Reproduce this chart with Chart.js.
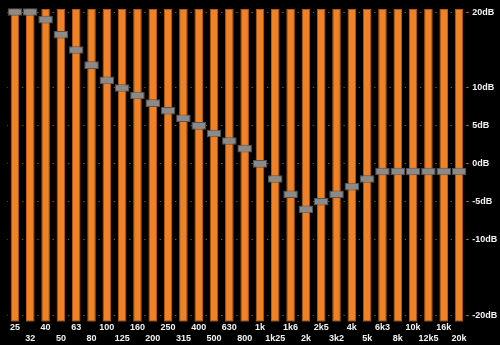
<!DOCTYPE html>
<html>
<head>
<meta charset="utf-8">
<script src="https://cdn.jsdelivr.net/npm/chart.js@4"></script>
<style>
  html, body { margin: 0; padding: 0; background: #000; }
  #wrap { width: 500px; height: 345px; }
</style>
</head>
<body>
<div id="wrap"><canvas id="eq"></canvas></div>
<script>
// 30-band graphic equalizer: band centre frequencies and slider gains (dB)
const bands = ['25','32','40','50','63','80','100','125','160','200','250','315','400','500','630','800',
               '1k','1k25','1k6','2k','2k5','3k2','4k','5k','6k3','8k','10k','12k5','16k','20k'];
const gains = [20, 20, 19, 17, 15, 13, 11, 10, 9, 8, 7, 6, 5, 4, 3, 2,
               0, -2, -4, -6, -5, -4, -3, -2, -1, -1, -1, -1, -1, -1];
const dbTicks = [20, 10, 5, 0, -5, -10, -20];
const gainMin = -20.8;
const gainMax = 20.4;
const knobHalf = 0.5;

// slider tracks span the full range, knobs sit at each gain
const tracks = bands.map(() => [gainMin, gainMax]);
const knobs = gains.map(g => [g - knobHalf, g + knobHalf]);

// alternate the band labels onto two rows
const bandLabels = bands.map((b, i) => i % 2 === 0 ? [b] : ['', b]);

const font = { family: 'Liberation Sans', size: 9, weight: 'bold', lineHeight: 1.2 };

new Chart(document.getElementById('eq'), {
  type: 'bar',
  data: {
    labels: bandLabels,
    datasets: [
      {
        label: 'knob',
        data: knobs,
        grouped: false,
        order: 0,
        clip: false,
        backgroundColor: '#8a8a8a',
        borderColor: '#555555',
        borderWidth: 1,
        borderSkipped: false,
        barPercentage: 0.95,
        categoryPercentage: 1
      },
      {
        label: 'track',
        data: tracks,
        grouped: false,
        order: 1,
        backgroundColor: '#ef8226',
        borderColor: '#b85c14',
        borderWidth: 1,
        borderSkipped: false,
        barPercentage: 0.56,
        categoryPercentage: 1
      }
    ]
  },
  options: {
    responsive: true,
    maintainAspectRatio: false,
    animation: false,
    layout: { padding: { left: 7.3, top: 7, right: 0, bottom: 0 } },
    plugins: { legend: { display: false }, tooltip: { enabled: false } },
    scales: {
      x: {
        grid: { display: false, drawTicks: false },
        border: { display: false },
        ticks: {
          color: '#f2f2f2',
          font: font,
          autoSkip: false,
          maxRotation: 0,
          minRotation: 0,
          padding: 0.6
        },
        afterFit: (axis) => { axis.height = 23.3; }
      },
      y: {
        position: 'right',
        min: gainMin,
        max: gainMax,
        afterBuildTicks: (axis) => { axis.ticks = dbTicks.map(v => ({ value: v })); },
        grid: {
          color: '#7a5a14',
          lineWidth: 1,
          tickLength: 2,
          tickColor: '#b07a20',
          tickBorderDash: []
        },
        // dotted grid: one dot in each gap between sliders
        border: { display: false, dash: [1.4, 13.91], dashOffset: 0.7 },
        ticks: {
          color: '#f2f2f2',
          font: font,
          padding: 3.6,
          callback: (v) => v + 'dB'
        },
        afterFit: (axis) => { axis.width = 33.3; }
      }
    }
  }
});
</script>
</body>
</html>
